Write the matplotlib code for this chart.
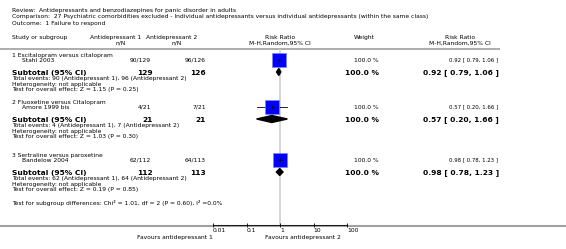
import matplotlib
matplotlib.use('Agg')
import matplotlib.pyplot as plt
from matplotlib.patches import Polygon
import numpy as np

plt.rcParams['font.family'] = 'DejaVu Sans'

# ---- data ----
review = 'Antidepressants and benzodiazepines for panic disorder in adults'
comparison = '27 Psychiatric comorbidities excluded - Individual antidepressants versus individual antidepressants (within the same class)'
outcome = '1 Failure to respond'

groups = ['1 Escitalopram versus citalopram',
          '2 Fluoxetine versus Citalopram',
          '3 Sertraline versus paroxetine']
studies = ['Stahl 2003', 'Amore 1999 bis', 'Bandelow 2004']
events1 = [90, 4, 62]
total1 = [129, 21, 112]
events2 = [96, 7, 64]
total2 = [126, 21, 113]
weights = [100.0, 100.0, 100.0]
rr = [0.92, 0.57, 0.98]
rr_lo = [0.79, 0.20, 0.78]
rr_hi = [1.06, 1.66, 1.23]
z_vals = [1.15, 1.03, 0.19]
p_vals = [0.25, 0.30, 0.85]
chi2, df, p_sub, i2 = 1.01, 2, 0.60, 0.0
ticks = [0.01, 0.1, 1, 10, 100]
tick_labels = ['0.01', '0.1', '1', '10', '100']

# ---- layout (pixel units) ----
W, H = 566, 249
fig = plt.figure(figsize=(W / 100, H / 100), dpi=100)
ax = fig.add_axes([0, 0, 1, 1])
ax.set_xlim(0, W)
ax.set_ylim(H, 0)
ax.axis('off')

FS = 4.3      # normal text
FSB = 5.4     # bold subtotal text
FSS = 3.9     # small numbers in study rows
X0 = 12
forest_left, forest_right = 213, 347
forest_top, forest_bot = 49, 225

# header
ax.text(X0, 10, 'Review:  ' + review, fontsize=FS, va='center')
ax.text(X0, 16.5, 'Comparison:  ' + comparison, fontsize=FS, va='center')
ax.text(X0, 23, 'Outcome:  ' + outcome, fontsize=FS, va='center')

hy1, hy2 = 37, 43
ax.text(X0, hy1, 'Study or subgroup', fontsize=FS, va='center')
ax.text(116, hy1, 'Antidepressant 1', fontsize=FS, va='center', ha='center')
ax.text(121, hy2, 'n/N', fontsize=FS, va='center', ha='center')
ax.text(172, hy1, 'Antidepressant 2', fontsize=FS, va='center', ha='center')
ax.text(177, hy2, 'n/N', fontsize=FS, va='center', ha='center')
ax.text(280, hy1, 'Risk Ratio', fontsize=FS, va='center', ha='center')
ax.text(280, hy2, 'M-H,Random,95% CI', fontsize=FS, va='center', ha='center')
ax.text(364, hy1, 'Weight', fontsize=FS, va='center', ha='center')
ax.text(460, hy1, 'Risk Ratio', fontsize=FS, va='center', ha='center')
ax.text(460, hy2, 'M-H,Random,95% CI', fontsize=FS, va='center', ha='center')
ax.plot([0, 500], [48.5, 48.5], color='#a0a0a0', lw=1.2, solid_capstyle='butt')

# forest axis
fx = fig.add_axes([forest_left / W, 1 - forest_bot / H,
                   (forest_right - forest_left) / W, (forest_bot - forest_top) / H])
fx.set_xscale('log')
fx.set_xlim(0.01, 100)
fx.set_ylim(forest_bot, forest_top)
fx.patch.set_alpha(0)
for s in ['top', 'left', 'right']:
    fx.spines[s].set_visible(False)
fx.spines['bottom'].set_linewidth(0.6)
fx.set_yticks([])
fx.set_xticks(ticks)
fx.set_xticklabels(tick_labels, fontsize=FS, ha='left')
fx.minorticks_off()
fx.tick_params(axis='x', direction='inout', length=3, width=0.6, pad=0.5)
fx.axvline(1, color='#d6d6d6', lw=1.4, zorder=0)

# rows
group_y = [55, 102, 155]
step = 5
for i in range(len(groups)):
    gy = group_y[i]
    sy = gy + step
    suby = gy + 18
    ax.text(X0, gy, groups[i], fontsize=FS, va='center')
    ax.text(22, sy, studies[i], fontsize=FS, va='center')
    ax.text(151, sy, f'{events1[i]}/{total1[i]}', fontsize=FS, va='center', ha='right')
    ax.text(206, sy, f'{events2[i]}/{total2[i]}', fontsize=FS, va='center', ha='right')
    ax.text(379, sy, f'{weights[i]:.1f} %', fontsize=FS, va='center', ha='right')
    ax.text(498, sy, f'{rr[i]:.2f} [ {rr_lo[i]:.2f}, {rr_hi[i]:.2f} ]', fontsize=FSS,
            va='center', ha='right')

    # study marker
    fx.plot([rr_lo[i], rr_hi[i]], [sy, sy], color='black', lw=0.6, zorder=2)
    fx.scatter([rr[i]], [sy], marker='s', s=88, color='#0000ff',
               edgecolor='#7f7fff', linewidth=0.5, zorder=3)
    fx.scatter([rr[i]], [sy], marker='+', s=8, color='black', linewidth=0.5, zorder=4)

    # subtotal
    ax.text(X0, suby, 'Subtotal (95% CI)', fontsize=FSB, fontweight='bold', va='center')
    ax.text(153, suby, f'{total1[i]}', fontsize=FSB, fontweight='bold', va='center', ha='right')
    ax.text(206, suby, f'{total2[i]}', fontsize=FSB, fontweight='bold', va='center', ha='right')
    ax.text(379, suby, f'{weights[i]:.1f} %', fontsize=FSB, fontweight='bold',
            va='center', ha='right')
    ax.text(499, suby, f'{rr[i]:.2f} [ {rr_lo[i]:.2f}, {rr_hi[i]:.2f} ]', fontsize=FSB,
            fontweight='bold', va='center', ha='right')
    dy = suby - 1
    fx.add_patch(Polygon([[rr_lo[i], dy], [rr[i], dy - 3.5], [rr_hi[i], dy], [rr[i], dy + 3.5]],
                         closed=True, color='black', zorder=3))

    ax.text(X0, suby + 5.5, f'Total events: {events1[i]} (Antidepressant 1), '
            f'{events2[i]} (Antidepressant 2)', fontsize=FS, va='center')
    ax.text(X0, suby + 11, 'Heterogeneity: not applicable', fontsize=FS, va='center')
    ax.text(X0, suby + 16.5, f'Test for overall effect: Z = {z_vals[i]:.2f} (P = {p_vals[i]:.2f})',
            fontsize=FS, va='center')

ax.text(X0, 203, f'Test for subgroup differences: Chi\u00b2 = {chi2:.2f}, df = {df} '
        f'(P = {p_sub:.2f}), I\u00b2 ={i2:.1f}%', fontsize=FS, va='center')

ax.plot([0, W], [226, 226], color='#a0a0a0', lw=1.5, solid_capstyle='butt')
ax.text(213, 237, 'Favours antidepressant 1', fontsize=FS, va='center', ha='right')
ax.text(265, 237, 'Favours antidepressant 2', fontsize=FS, va='center', ha='left')

fig.savefig('out.png', dpi=100)
